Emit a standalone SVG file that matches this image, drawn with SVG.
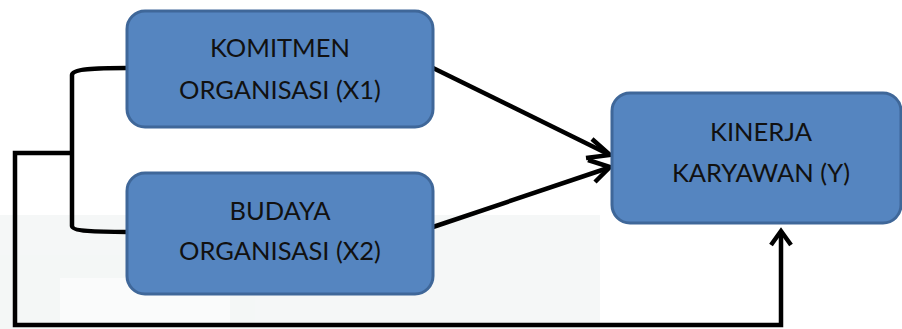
<svg xmlns="http://www.w3.org/2000/svg" width="902" height="329" viewBox="0 0 902 329">
<defs>
<style>
.box{fill:#5585c0;stroke:#3f6799;stroke-width:3}
.lbl{font-family:Lato,"Open Sans","Liberation Sans",sans-serif;font-size:25.5px;fill:#111;text-anchor:middle}
.con{fill:none;stroke:#000;stroke-width:4.5;stroke-linejoin:miter}
.head{fill:none;stroke:#000;stroke-width:4.5}
</style>
</defs>
<rect width="902" height="329" fill="#ffffff"/>
<g opacity="0.6">
<rect x="0" y="215" width="600" height="114" fill="#eef2f1"/>
<rect x="60" y="278" width="170" height="51" fill="#f8f9f9"/>
</g>
<g id="connectors">
<path class="con" d="M127,68 C95,68 72,69 72,75 L72,226 C72,231 95,232 127,232"/>
<path class="con" d="M72,153 L15,153 L15,325 L781,325 L781,232"/>
<path class="head" d="M771,245 L781,231 L791,245"/>
<line class="con" x1="433" y1="68" x2="608" y2="154"/>
<path class="head" d="M592,139 L610,155 L586,158"/>
<line class="con" x1="433" y1="227" x2="608" y2="168"/>
<path class="head" d="M588,160 L610,167 L595,182"/>
</g>
<g id="node-x1">
<rect class="box" x="127" y="11" width="306" height="116" rx="18"/>
<text class="lbl" x="280" y="57">KOMITMEN</text>
<text class="lbl" x="280" y="99">ORGANISASI (X1)</text>
</g>
<g id="node-x2">
<rect class="box" x="127" y="173" width="306" height="121" rx="18"/>
<text class="lbl" x="280" y="220">BUDAYA</text>
<text class="lbl" x="280" y="260">ORGANISASI (X2)</text>
</g>
<g id="node-y">
<rect class="box" x="612" y="93" width="289" height="130" rx="18"/>
<text class="lbl" x="761" y="141">KINERJA</text>
<text class="lbl" x="761" y="182">KARYAWAN (Y)</text>
</g>
</svg>
